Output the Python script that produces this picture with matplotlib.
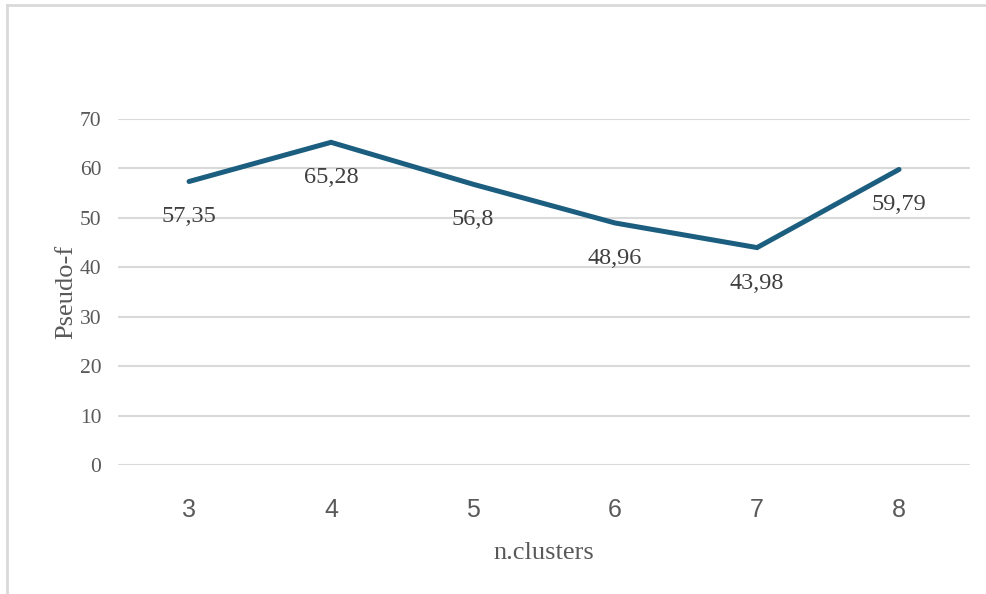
import matplotlib

matplotlib.use("Agg")
from matplotlib import pyplot as plt
from matplotlib.lines import Line2D

clusters = ["3", "4", "5", "6", "7", "8"]
pseudo_f = [57.35, 65.28, 56.8, 48.96, 43.98, 59.79]
value_labels = ["57,35", "65,28", "56,8", "48,96", "43,98", "59,79"]
y_ticks = [0, 10, 20, 30, 40, 50, 60, 70]

SERIF = "Liberation Serif"
SANS = "Liberation Sans"
TEXT = "#595959"
GRID = "#d9d9d9"
LINE = "#1c5e7f"

fig = plt.figure(figsize=(9.87, 5.94), dpi=100)
ax = fig.add_axes([0.1196, 0.2172, 0.8632, 0.5825])

xs = list(range(len(clusters)))
ax.plot(xs, pseudo_f, color=LINE, linewidth=3.6, solid_capstyle="round",
        solid_joinstyle="miter", zorder=3)

for x, y, lab in zip(xs, pseudo_f, value_labels):
    ax.annotate(lab, (x, y), xytext=(0, -25.5), textcoords="offset points",
                ha="center", va="center", fontsize=17.5, family=SERIF,
                color="#404040", zorder=4)

ax.set_xlim(-0.5, len(clusters) - 0.5)
ax.set_ylim(0, 70)
ax.set_yticks(y_ticks)
ax.set_xticks(xs)
ax.set_xticklabels(clusters, fontsize=18, family=SANS, color=TEXT)
for t in ax.get_yticklabels():
    t.set_fontfamily(SERIF)
    t.set_fontsize(15.5)
    t.set_color(TEXT)

ax.grid(axis="y", color=GRID, linewidth=1.5)
ax.set_axisbelow(True)
ax.tick_params(axis="both", length=0)
ax.tick_params(axis="y", pad=12)
ax.tick_params(axis="x", pad=24)
for side in ("top", "right", "left", "bottom"):
    ax.spines[side].set_visible(False)

ax.set_ylabel("Pseudo-f", fontsize=19, family=SERIF, color=TEXT, labelpad=2)
ax.set_xlabel("n.clusters", fontsize=19, family=SERIF, color=TEXT, labelpad=14)

# chart frame (left and top edges only)
fig.add_artist(Line2D([0.0068, 0.0068], [0, 0.992], color=GRID, linewidth=2,
                      transform=fig.transFigure))
fig.add_artist(Line2D([0.0068, 1], [0.992, 0.992], color=GRID, linewidth=2,
                      transform=fig.transFigure))

fig.savefig("out.png", dpi=100, facecolor="white")
plt.close(fig)
